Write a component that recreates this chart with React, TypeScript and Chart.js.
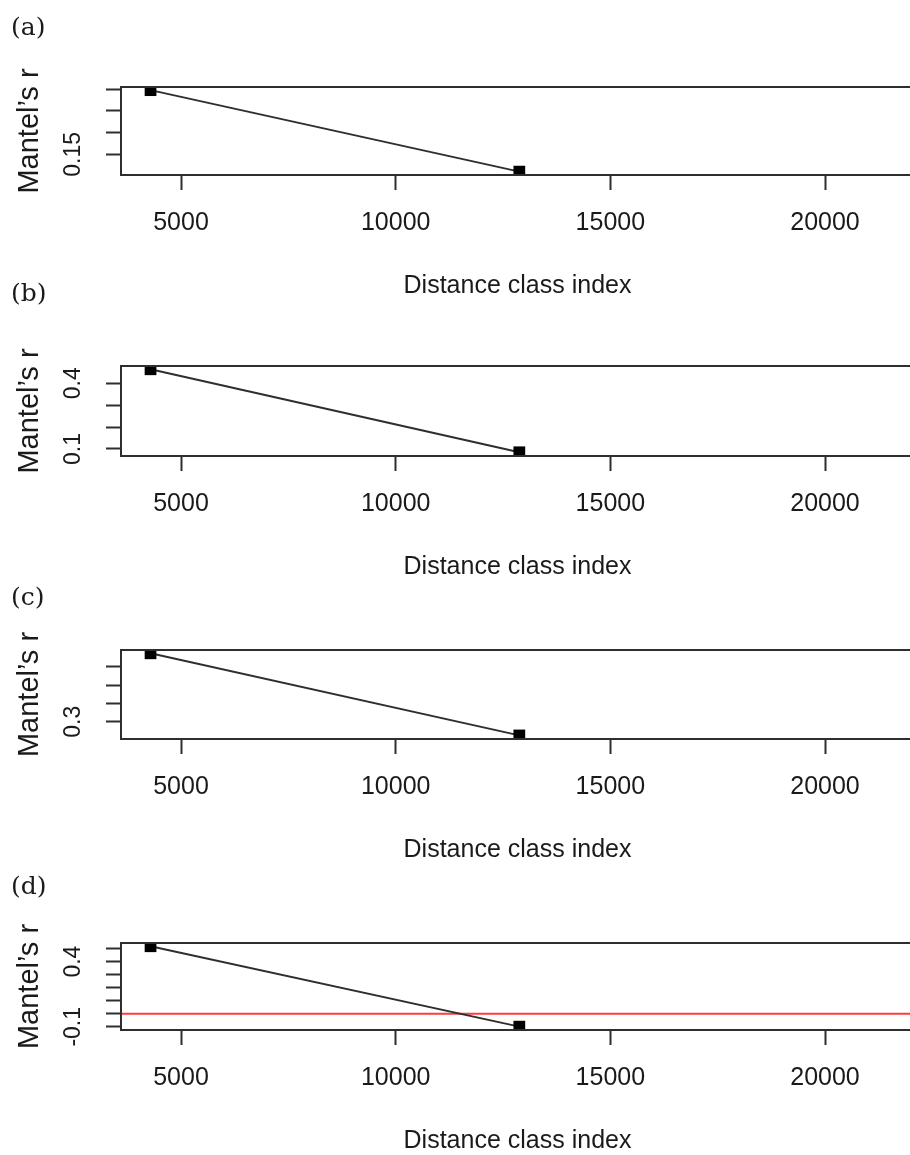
import React, { useEffect, useRef } from "react";
import { Chart, registerables } from "chart.js";

Chart.register(...registerables);

// ---------------- data ----------------
const panelLetters = ["(a)", "(b)", "(c)", "(d)"];
const xTitle = "Distance class index";
const yTitle = "Mantel’s r";

const xTicks = [5000, 10000, 15000, 20000];
const distanceClass = [4290, 12880];

const mantelA = [0.298, 0.11];
const mantelB = [0.464, 0.085];
const mantelC = [0.673, 0.225];
const mantelD = [0.518, -0.099];

const yTicksA = [0.15, 0.2, 0.25, 0.3];
const yLabelsA = ["0.15", "", "", ""];
const yTicksB = [0.1, 0.2, 0.3, 0.4];
const yLabelsB = ["0.1", "", "", "0.4"];
const yTicksC = [0.3, 0.4, 0.5, 0.6];
const yLabelsC = ["0.3", "", "", ""];
const yTicksD = [-0.1, 0, 0.1, 0.2, 0.3, 0.4, 0.5];
const yLabelsD = ["-0.1", "", "", "", "", "0.4", ""];
const referenceLineD = [0];

// ---------------- layout / axis ranges ----------------
const X_MIN = 3602;
const X_MAX = 22073;
const CANVAS_W = 940;
const AREA_LEFT = 121;
const AREA_RIGHT = 914;
const PAD_LEFT = 11;
const TICK_LEN = 15;
const Y_LABEL_CENTER = 74;
const LETTER_FONT = 25;
const X_TICK_FONT = 25;
const Y_TICK_FONT = 23;
const X_TITLE_FONT = 25;
const Y_TITLE_FONT = 29;
const FAMILY = "Liberation Sans";
const INK = "#1a1a1a";
const LINE = "#2e2e2e";

const PANELS = [
  { values: mantelA, yTicks: yTicksA, yLabels: yLabelsA, refLine: null as number[] | null },
  { values: mantelB, yTicks: yTicksB, yLabels: yLabelsB, refLine: null as number[] | null },
  { values: mantelC, yTicks: yTicksC, yLabels: yLabelsC, refLine: null as number[] | null },
  { values: mantelD, yTicks: yTicksD, yLabels: yLabelsD, refLine: referenceLineD },
];

const LAYOUT = [
  { letterY: 28, boxTop: 87, boxBottom: 175, titleY: 286, yMin: 0.1022, yMax: 0.3053 },
  { letterY: 294, boxTop: 366, boxBottom: 456, titleY: 567, yMin: 0.068, yMax: 0.479 },
  { letterY: 598, boxTop: 650, boxBottom: 739, titleY: 850, yMin: 0.2056, yMax: 0.691 },
  { letterY: 887, boxTop: 943, boxBottom: 1030, titleY: 1141, yMin: -0.1247, yMax: 0.543 },
];

const boxPlugin = {
  id: "rbox",
  afterDraw(chart: any) {
    const { ctx, chartArea } = chart;
    const { left, top, right, bottom } = chartArea;
    ctx.save();
    ctx.strokeStyle = LINE;
    ctx.lineWidth = 2;
    ctx.strokeRect(left, top, right - left, bottom - top);
    ctx.restore();
  },
};

function geometry(i: number) {
  const L = LAYOUT[i];
  const top = L.letterY - 20;
  const height = L.titleY + 22 - top;
  return { top, height };
}

function Panel({ idx }: { idx: number }) {
  const ref = useRef<HTMLCanvasElement | null>(null);
  const { top, height } = geometry(idx);

  useEffect(() => {
    const p = PANELS[idx];
    const L = LAYOUT[idx];
    const letterLH = LETTER_FONT * 1.2;
    const titleTop = 20 - letterLH / 2;
    const titleBottom = L.boxTop - top - letterLH - titleTop;
    const xAxisH = height - (L.boxBottom - top);
    const xTitleLH = X_TITLE_FONT * 1.2;
    const xTitlePadBottom = height - (L.titleY - top) - xTitleLH / 2;
    const xTickLH = X_TICK_FONT * 1.2;
    const xTickPad = 48 - TICK_LEN - xTickLH / 2;
    const yTitleLH = Y_TITLE_FONT * 1.2;
    const yTitlePadTop = 30 - PAD_LEFT - yTitleLH / 2;

    const m = document.createElement("canvas").getContext("2d")!;
    m.font = `${Y_TICK_FONT}px ${FAMILY}`;
    const widest = Math.max(...p.yLabels.map((s) => m.measureText(s).width));
    const yTickPad = AREA_LEFT - TICK_LEN - Y_LABEL_CENTER - widest / 2;

    const datasets: any[] = [
      {
        data: distanceClass.map((x, k) => ({ x, y: p.values[k] })),
        borderColor: LINE,
        borderWidth: 1.9,
        pointStyle: "rect",
        pointRadius: 8.3,
        pointBackgroundColor: "#000",
        pointBorderWidth: 0,
        tension: 0,
      },
    ];
    if (p.refLine) {
      datasets.push({
        data: [
          { x: X_MIN, y: p.refLine[0] },
          { x: X_MAX, y: p.refLine[0] },
        ],
        borderColor: "#ff3b3b",
        borderWidth: 2,
        pointRadius: 0,
      });
    }

    Chart.defaults.font.family = FAMILY;
    const chart = new Chart(ref.current!, {
      type: "line",
      data: { datasets },
      plugins: [boxPlugin],
      options: {
        responsive: false,
        animation: false,
        devicePixelRatio: 1,
        layout: { padding: { left: PAD_LEFT, right: CANVAS_W - AREA_RIGHT, top: 0, bottom: 0 } },
        plugins: {
          legend: { display: false },
          tooltip: { enabled: false },
          title: {
            display: true,
            text: panelLetters[idx],
            align: "start",
            color: INK,
            font: { family: "DejaVu Serif", size: LETTER_FONT, weight: "normal", lineHeight: 1.2 },
            padding: { top: titleTop, bottom: titleBottom },
          },
        },
        scales: {
          x: {
            type: "linear",
            min: X_MIN,
            max: X_MAX,
            afterBuildTicks: (s: any) => {
              s.ticks = xTicks.map((v) => ({ value: v }));
            },
            afterFit: (s: any) => {
              s.height = xAxisH;
            },
            grid: {
              display: true,
              drawOnChartArea: false,
              drawTicks: true,
              tickLength: TICK_LEN,
              tickWidth: 2,
              tickColor: LINE,
            },
            border: { display: false },
            ticks: {
              autoSkip: false,
              minRotation: 0,
              maxRotation: 0,
              padding: xTickPad,
              color: INK,
              font: { family: FAMILY, size: X_TICK_FONT, lineHeight: 1.2 },
              callback: (v: any) => String(v),
            },
            title: {
              display: true,
              text: xTitle,
              color: INK,
              font: { family: FAMILY, size: X_TITLE_FONT, lineHeight: 1.2 },
              padding: { top: 0, bottom: xTitlePadBottom },
            },
          },
          y: {
            type: "linear",
            min: L.yMin,
            max: L.yMax,
            afterBuildTicks: (s: any) => {
              s.ticks = p.yTicks.map((v) => ({ value: v }));
            },
            afterFit: (s: any) => {
              s.width = AREA_LEFT - PAD_LEFT;
            },
            grid: {
              display: true,
              drawOnChartArea: false,
              drawTicks: true,
              tickLength: TICK_LEN,
              tickWidth: 2,
              tickColor: LINE,
            },
            border: { display: false },
            ticks: {
              autoSkip: false,
              minRotation: 90,
              maxRotation: 90,
              crossAlign: "center",
              padding: yTickPad,
              color: INK,
              font: { family: FAMILY, size: Y_TICK_FONT, lineHeight: 1.2 },
              callback: (_v: any, k: number) => p.yLabels[k],
            },
            title: {
              display: true,
              text: yTitle,
              color: INK,
              font: { family: FAMILY, size: Y_TITLE_FONT, lineHeight: 1.2 },
              padding: { top: yTitlePadTop, bottom: 0 },
            },
          },
        },
      } as any,
    });
    return () => chart.destroy();
  }, [idx, top, height]);

  return (
    <canvas
      ref={ref}
      width={CANVAS_W}
      height={height}
      style={{ position: "absolute", left: 0, top, width: CANVAS_W, height }}
    />
  );
}

export default function App() {
  return (
    <div
      style={{
        position: "absolute",
        left: 0,
        top: 0,
        width: 910,
        height: 1155,
        overflow: "hidden",
        background: "#fff",
      }}
    >
      {PANELS.map((_, i) => (
        <Panel key={i} idx={i} />
      ))}
    </div>
  );
}
